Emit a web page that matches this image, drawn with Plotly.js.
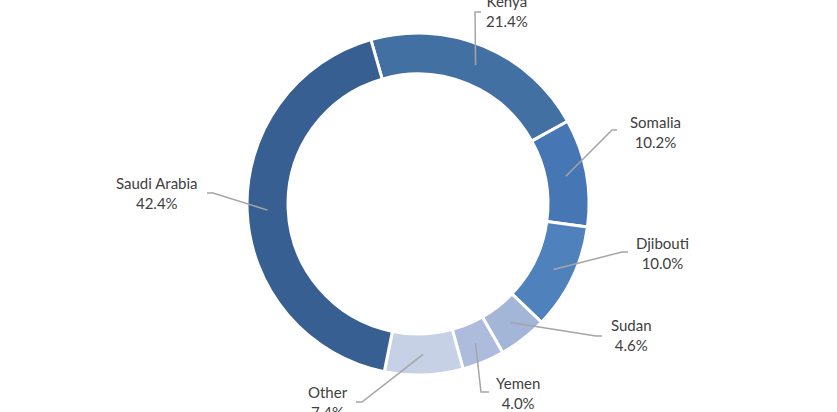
<!DOCTYPE html>
<html>
<head>
<meta charset="utf-8">
<script src="https://cdn.plot.ly/plotly-3.0.1.min.js"></script>
<style>html,body{margin:0;padding:0;background:#fff;}#chart{width:837px;height:412px;}</style>
</head>
<body>
<div id="chart"></div>
<script>
// ---- data ----
const countries = ["Kenya", "Somalia", "Djibouti", "Sudan", "Yemen", "Other", "Saudi Arabia"];
const shares = [21.4, 10.2, 10.0, 4.6, 4.0, 7.4, 42.4];
const sliceColors = ["#4270a3", "#4677b4", "#4f81bd", "#a3b6d8", "#adbcdc", "#c6d1e5", "#375f92"];

// ---- layout constants (pixels) ----
const W = 837, H = 412;
const CX = 418, CY = 204, R = 171, HOLE = 0.76;
const ROT = -16;
const rMid = R * (1 + HOLE) / 2;
// label placement: elbow point, end of leader, text centre (x, y of middle)
const labelLayout = [
  {elbow: [475, 12], end: [481, 12], text: [507, 11]},
  {elbow: [612, 130], end: [617, 130], text: [655, 132]},
  {elbow: [622, 252], end: [628, 252], text: [662, 253]},
  {elbow: [596, 336], end: [602, 336], text: [631, 335]},
  {elbow: [481, 392], end: [489, 392], text: [518, 393]},
  {elbow: [362, 402], end: [356, 402], text: [328, 402]},
  {elbow: [213, 193], end: [207, 193], text: [157, 193]}
];

const total = shares.reduce((a, b) => a + b, 0);
let cum = 0;
const traces = [{
  type: 'pie',
  labels: countries,
  values: shares,
  sort: false,
  direction: 'clockwise',
  rotation: ROT,
  hole: HOLE,
  textinfo: 'none',
  hoverinfo: 'label+percent',
  marker: {colors: sliceColors, line: {color: '#ffffff', width: 3}},
  domain: {x: [(CX - R) / W, (CX + R) / W], y: [(H - CY - R) / H, (H - CY + R) / H]},
  showlegend: false
}, {
  type: 'scatter', mode: 'markers', x: [0, W], y: [0, H],
  marker: {opacity: 0}, hoverinfo: 'skip', showlegend: false
}];
const annotations = [];
const shapes = [];
countries.forEach((c, i) => {
  const mid = ROT + (cum + shares[i] / 2) / total * 360;
  cum += shares[i];
  const a = mid * Math.PI / 180;
  const sx = CX + rMid * Math.sin(a), sy = CY - rMid * Math.cos(a);
  const L = labelLayout[i];
  shapes.push({
    type: 'path', xref: 'x', yref: 'y', layer: 'above',
    path: 'M' + sx.toFixed(1) + ',' + sy.toFixed(1) + ' L' + L.elbow[0] + ',' + L.elbow[1] + ' L' + L.end[0] + ',' + L.end[1],
    line: {color: '#a5a5a5', width: 1.5}
  });
  annotations.push({
    x: L.text[0], y: L.text[1], xref: 'x', yref: 'y',
    text: c + '<br>' + shares[i].toFixed(1) + '%',
    showarrow: false, align: 'center', xanchor: 'center', yanchor: 'middle',
    font: {family: 'Lato, "Open Sans", sans-serif', size: 15, color: '#404040'}
  });
});

const layout = {
  width: W, height: H,
  margin: {l: 0, r: 0, t: 0, b: 0},
  paper_bgcolor: '#ffffff', plot_bgcolor: 'rgba(0,0,0,0)',
  xaxis: {range: [0, W], visible: false, fixedrange: true},
  yaxis: {range: [H, 0], visible: false, fixedrange: true},
  annotations: annotations,
  shapes: shapes,
  showlegend: false
};
Plotly.newPlot('chart', traces, layout, {displayModeBar: false, staticPlot: true});
</script>
</body>
</html>
